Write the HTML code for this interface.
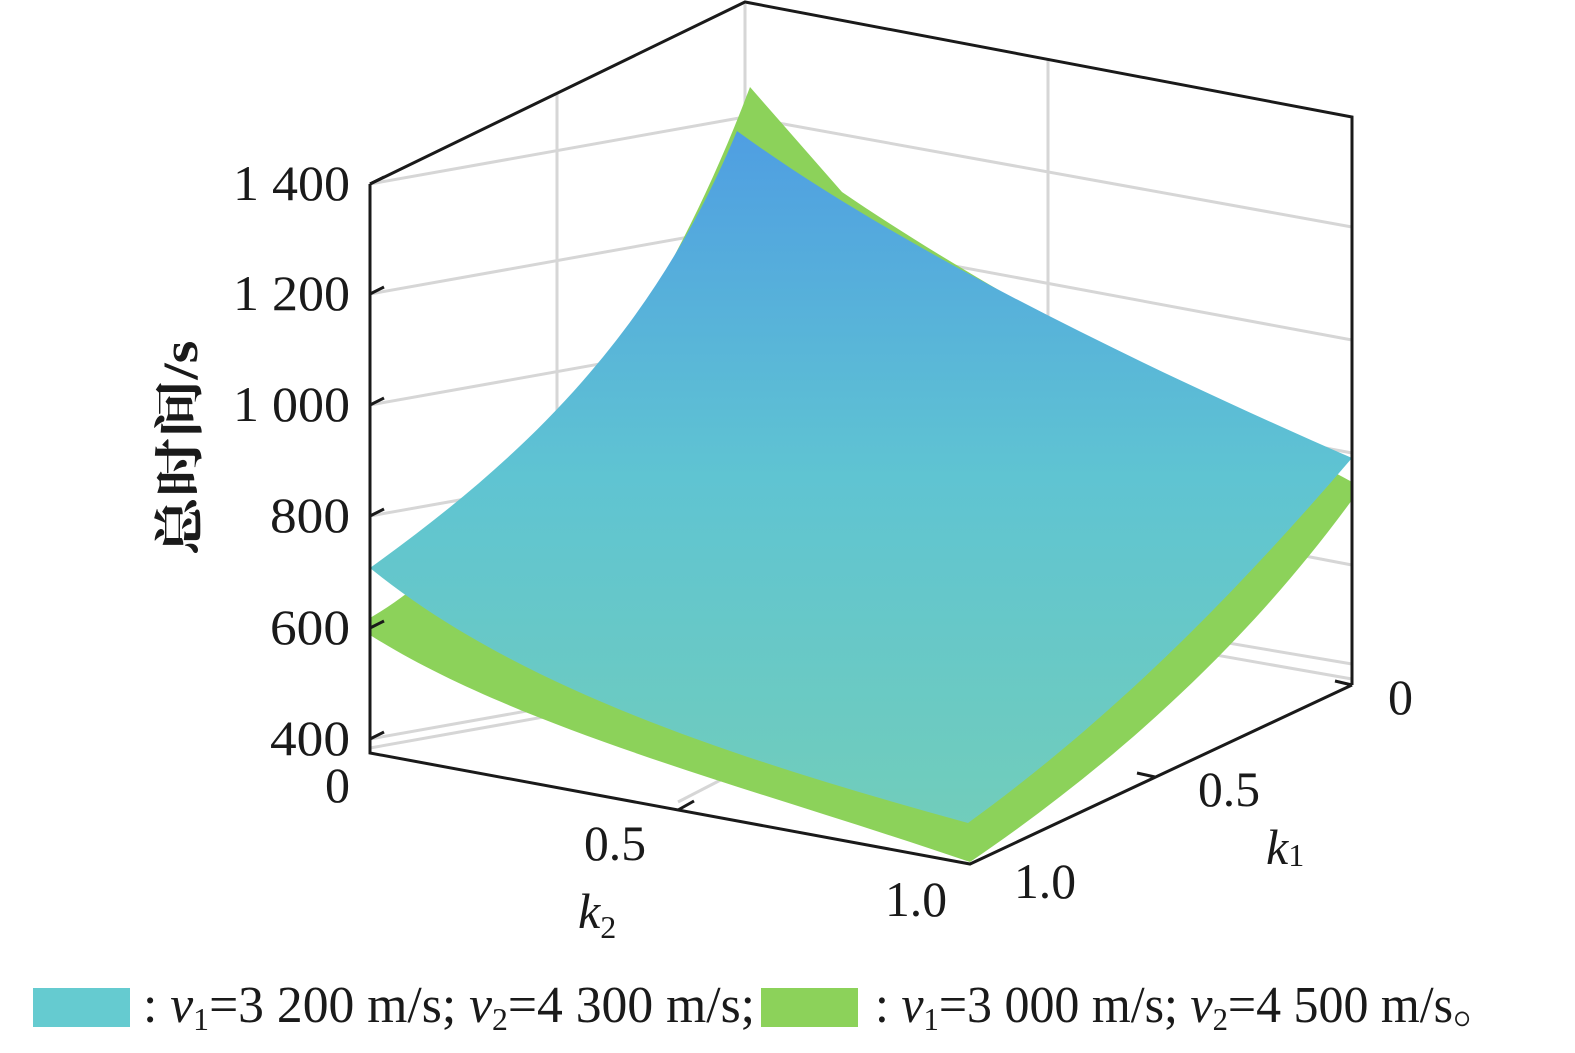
<!DOCTYPE html>
<html><head><meta charset="utf-8"><style>
body{margin:0;background:#fff;}
svg{display:block;}
text{font-family:"Liberation Serif","Noto Serif CJK SC",serif;fill:#1a1a1a;}
</style></head><body>
<svg width="1575" height="1053" viewBox="0 0 1575 1053" xmlns="http://www.w3.org/2000/svg">
<defs>
<linearGradient id="blue" gradientUnits="userSpaceOnUse" x1="0" y1="130" x2="0" y2="825">
<stop offset="0" stop-color="#4f9ee2"/>
<stop offset="0.5" stop-color="#5fc4d2"/>
<stop offset="1" stop-color="#71cdbb"/>
</linearGradient>
</defs>
<g stroke="#d6d6d6" stroke-width="3" fill="none">
<line x1="370" y1="184" x2="745" y2="117"/>
<line x1="370" y1="294" x2="745" y2="227"/>
<line x1="370" y1="405" x2="745" y2="338"/>
<line x1="370" y1="516" x2="745" y2="449"/>
<line x1="370" y1="628" x2="745" y2="561"/>
<line x1="370" y1="739" x2="745" y2="672"/>
<line x1="370" y1="748" x2="745" y2="681"/>
<line x1="745" y1="117" x2="1352" y2="227"/>
<line x1="745" y1="227" x2="1352" y2="340"/>
<line x1="745" y1="338" x2="1352" y2="453"/>
<line x1="745" y1="449" x2="1352" y2="565"/>
<line x1="745" y1="561" x2="1352" y2="664"/>
<line x1="745" y1="572" x2="1352" y2="679"/>
<line x1="745" y1="4" x2="745" y2="600"/>
<line x1="557" y1="93" x2="557" y2="720"/>
<line x1="1048" y1="58" x2="1048" y2="640"/>
<line x1="678" y1="802" x2="740" y2="770"/>
</g>
<path d="M370,618 C470,560 640,380 750,87 L842,192 C1000,300 1200,400 1352,482 L1352,500 C1250,640 1120,760 970,862 C760,790 520,730 370,635 Z" fill="#8cd25a"/>
<path d="M370,568 C520,460 650,340 737,131 C900,250 1150,370 1352,458 C1230,600 1110,720 968,823 C740,760 520,690 370,568 Z" fill="url(#blue)"/>
<g stroke="#1a1a1a" stroke-width="3" fill="none">
<polyline points="370,184 745,2 1352,117 1352,685"/>
<polyline points="370,184 370,753 970,864 1352,685"/>
<line x1="370" y1="184" x2="384" y2="177"/>
<line x1="370" y1="294" x2="384" y2="287"/>
<line x1="370" y1="405" x2="384" y2="398"/>
<line x1="370" y1="516" x2="384" y2="509"/>
<line x1="370" y1="628" x2="384" y2="621"/>
<line x1="370" y1="739" x2="384" y2="732"/>
<line x1="678" y1="810" x2="694" y2="801"/>
<line x1="1155" y1="777" x2="1137" y2="773"/>
<line x1="1352" y1="685" x2="1335" y2="681"/>
</g>
<g font-size="50" text-anchor="end">
<text x="350" y="200" textLength="117" lengthAdjust="spacingAndGlyphs">1 400</text>
<text x="350" y="310" textLength="117" lengthAdjust="spacingAndGlyphs">1 200</text>
<text x="350" y="421" textLength="117" lengthAdjust="spacingAndGlyphs">1 000</text>
<text x="350" y="532" textLength="80" lengthAdjust="spacingAndGlyphs">800</text>
<text x="350" y="644" textLength="80" lengthAdjust="spacingAndGlyphs">600</text>
<text x="350" y="755" textLength="80" lengthAdjust="spacingAndGlyphs">400</text>
<text x="350" y="802" textLength="25" lengthAdjust="spacingAndGlyphs">0</text>
</g>
<g font-size="50">
<text x="584" y="860" textLength="62" lengthAdjust="spacingAndGlyphs">0.5</text>
<text x="885" y="916" textLength="62" lengthAdjust="spacingAndGlyphs">1.0</text>
<text x="1388" y="714" textLength="25" lengthAdjust="spacingAndGlyphs">0</text>
<text x="1198" y="806" textLength="62" lengthAdjust="spacingAndGlyphs">0.5</text>
<text x="1014" y="898" textLength="62" lengthAdjust="spacingAndGlyphs">1.0</text>
</g>
<text x="578" y="928" font-size="50" font-style="italic">k<tspan font-size="32" dy="10" font-style="normal">2</tspan></text>
<text x="1266" y="864" font-size="50" font-style="italic">k<tspan font-size="32" dy="2" font-style="normal">1</tspan></text>
<text transform="translate(197,448) rotate(-90)" font-size="50" text-anchor="middle" font-weight="bold" textLength="215" lengthAdjust="spacingAndGlyphs">总时间/s</text>
<rect x="33" y="988" width="97" height="39" fill="#65cbd0"/>
<rect x="761" y="988" width="97" height="39" fill="#8cd25a"/>
<g font-size="52">
<text x="143" y="1022" textLength="612" lengthAdjust="spacingAndGlyphs">: <tspan font-style="italic">v</tspan><tspan font-size="32" dy="8">1</tspan><tspan dy="-8">=3 200 m/s; </tspan><tspan font-style="italic">v</tspan><tspan font-size="32" dy="8">2</tspan><tspan dy="-8">=4 300 m/s;</tspan></text>
<text x="875" y="1022" textLength="628" lengthAdjust="spacingAndGlyphs">: <tspan font-style="italic">v</tspan><tspan font-size="32" dy="8">1</tspan><tspan dy="-8">=3 000 m/s; </tspan><tspan font-style="italic">v</tspan><tspan font-size="32" dy="8">2</tspan><tspan dy="-8">=4 500 m/s。</tspan></text>
</g>
</svg>
</body></html>
